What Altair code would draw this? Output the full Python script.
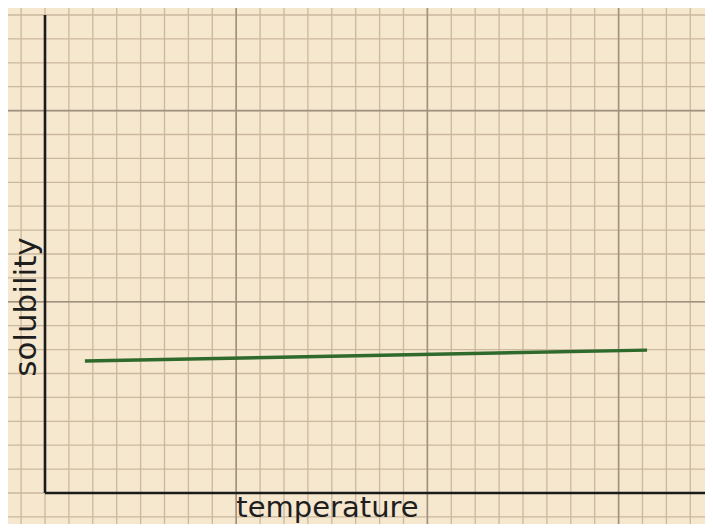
import altair as alt
import pandas as pd

# Data (in grid units: one small square = 1)
temperature = [1.67, 25.19]
solubility = [5.52, 5.98]

x_label = "temperature"
y_label = "solubility"

minor_x = list(range(-1, 28))
minor_y = list(range(-1, 21))
major_x = [8, 16, 24]
major_y = [8, 16]

W, H = 697, 516
U = 23.9
x_lo = -37 / U
x_hi = (W - 37) / U
y_hi = 485 / U
y_lo = -(H - 485) / U
xs = alt.Scale(domain=[x_lo, x_hi], nice=False, zero=False)
ys = alt.Scale(domain=[y_lo, y_hi], nice=False, zero=False)

paper = "#f6e7cf"
minor_col = "#cbb99e"
major_col = "#a09280"

def vrules(vals, color, w):
    return alt.Chart(pd.DataFrame({"v": vals})).mark_rule(color=color, strokeWidth=w).encode(
        x=alt.X("v:Q", scale=xs, axis=None))

def hrules(vals, color, w):
    return alt.Chart(pd.DataFrame({"v": vals})).mark_rule(color=color, strokeWidth=w).encode(
        y=alt.Y("v:Q", scale=ys, axis=None))

grid = vrules(minor_x, minor_col, 1.3) + hrules(minor_y, minor_col, 1.3) + \
       vrules(major_x, major_col, 1.6) + hrules(major_y, major_col, 1.6)

yaxis = alt.Chart(pd.DataFrame({"x": [0], "y": [0], "y2": [20.0]})).mark_rule(
    color="#1b1b1b", strokeWidth=2.6).encode(
    x=alt.X("x:Q", scale=xs, axis=None), y=alt.Y("y:Q", scale=ys, axis=None), y2="y2:Q")
xaxis = alt.Chart(pd.DataFrame({"y": [0], "x": [0], "x2": [x_hi]})).mark_rule(
    color="#1b1b1b", strokeWidth=2.6).encode(
    y=alt.Y("y:Q", scale=ys, axis=None), x=alt.X("x:Q", scale=xs, axis=None), x2="x2:Q")

line = alt.Chart(pd.DataFrame({"t": temperature, "s": solubility})).mark_line(
    color="#2f6a2c", strokeWidth=3.4).encode(
    x=alt.X("t:Q", scale=xs, axis=None), y=alt.Y("s:Q", scale=ys, axis=None))

xt = alt.Chart(pd.DataFrame({"x": [11.82], "y": [-1.0], "t": [x_label]})).mark_text(
    font="DejaVu Sans", fontSize=29, color="#1e1e1e", align="center", baseline="alphabetic").encode(
    x=alt.X("x:Q", scale=xs, axis=None), y=alt.Y("y:Q", scale=ys, axis=None), text="t:N")
yt = alt.Chart(pd.DataFrame({"x": [-0.38], "y": [7.78], "t": [y_label]})).mark_text(
    font="DejaVu Sans", fontSize=31, color="#1e1e1e", align="center", baseline="alphabetic", angle=270).encode(
    x=alt.X("x:Q", scale=xs, axis=None), y=alt.Y("y:Q", scale=ys, axis=None), text="t:N")

chart = alt.layer(grid, yaxis, xaxis, line, xt, yt).properties(
    width=W, height=H, autosize=alt.AutoSizeParams(type="none"), padding=0,
    background=paper
).configure_view(stroke=None)

chart.save("out.html", embed_options={"renderer": "svg", "actions": False})
